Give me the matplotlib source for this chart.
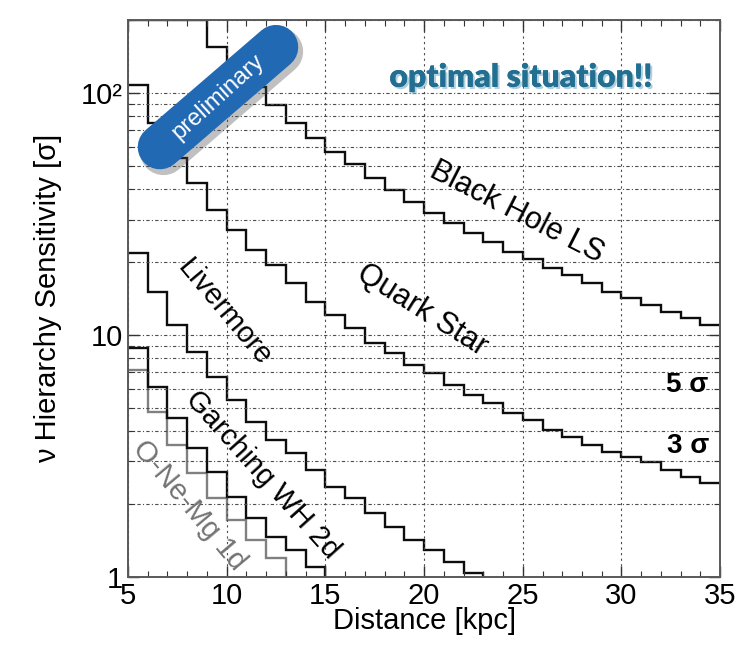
import matplotlib
matplotlib.use("Agg")
import matplotlib.pyplot as plt
import numpy as np
from matplotlib import patheffects

plt.rcParams['font.family'] = ['Liberation Sans', 'DejaVu Sans']

# distance bins [kpc], one per 1 kpc
edges = np.arange(5, 36)

black_hole = [200, 200, 200, 200, 155, 133, 106, 89, 75, 65,
              57, 51, 44.6, 39.7, 35.5, 31.9, 29.0, 26.4, 24.2, 22.0,
              20.6, 18.9, 17.7, 16.4, 15.1, 14.2, 13.3, 12.4, 11.8, 11.0]
quark_star = [108, 75, 54, 42.5, 32.9, 27.2, 22.5, 19.5, 16.4, 13.7,
              12.1, 10.7, 9.27, 8.43, 7.52, 6.97, 6.21, 5.65, 5.24, 4.76,
              4.45, 4.05, 3.79, 3.51, 3.28, 3.13, 2.99, 2.77, 2.59, 2.45]
livermore = [21.8, 15.1, 11.0, 8.51, 6.71, 5.39, 4.37, 3.68, 3.25, 2.77,
             2.35, 2.12, 1.84, 1.61, 1.42, 1.29, 1.15, 1.04, 0.5]
garching = [8.84, 6.10, 4.54, 3.41, 2.72, 2.14, 1.75, 1.46, 1.29, 1.10, 0.5]
onemg = [7.17, 4.81, 3.51, 2.69, 2.12, 1.72, 1.42, 1.20, 0.5]

fig = plt.figure(figsize=(7.44, 6.49), dpi=100)
ax = fig.add_axes([0.172, 0.111, 0.796, 0.858])

ax.set_yscale('log')
ax.set_xlim(5, 35)
ax.set_ylim(1, 200)

# grid first so the curves sit on top
ax.grid(True, which='major', axis='x', color='0.3', lw=0.8, ls=(0, (2, 3)))
ax.grid(True, which='both', axis='y', color='0.3', lw=0.8, ls=(0, (3, 2, 1, 2)))

ax.stairs(onemg, edges[:len(onemg) + 1], color='0.5', lw=1.7, baseline=None)
ax.stairs(garching, edges[:len(garching) + 1], color='0.05', lw=1.7, baseline=None)
ax.stairs(livermore, edges[:len(livermore) + 1], color='0.05', lw=1.7, baseline=None)
ax.stairs(quark_star, edges, color='0.05', lw=1.7, baseline=None)
ax.stairs(black_hole, edges, color='0.05', lw=1.7, baseline=None)

ax.set_xticks(np.arange(5, 36, 5))
ax.set_xticks(np.arange(5, 36, 1), minor=True)
ax.set_yticks([1, 10, 100], ['1', '10', '10²'])
ax.tick_params(which='both', direction='in', top=True, right=True,
               labelsize=21, color='0.2')
ax.tick_params(which='major', length=8, width=1.0)
ax.tick_params(which='minor', length=4, width=0.8)
for s in ax.spines.values():
    s.set_color('0.35')
    s.set_linewidth(1.4)

ax.set_xlabel('Distance [kpc]', fontsize=21, labelpad=-2)
ax.set_ylabel('ν Hierarchy Sensitivity [σ]', fontsize=21, labelpad=14)

# curve labels
ax.text(24.7, 32.2, 'Black Hole LS', fontsize=22, rotation=-27,
        ha='center', va='center')
ax.text(19.9, 12.7, 'Quark Star', fontsize=22, rotation=-32,
        ha='center', va='center')
ax.text(9.9, 12.4, 'Livermore', fontsize=21, rotation=-50,
        ha='center', va='center')
ax.text(11.8, 2.64, 'Garching WH 2d', fontsize=21, rotation=-48,
        ha='center', va='center')
ax.text(8.1, 1.98, 'O-Ne-Mg 1d', fontsize=21, rotation=-50, color='0.45',
        ha='center', va='center')
ax.text(33.3, 6.21, '5 σ', fontsize=20, fontweight='bold',
        ha='center', va='center')
ax.text(33.4, 3.48, '3 σ', fontsize=20, fontweight='bold',
        ha='center', va='center')

ax.text(24.9, 116, 'optimal situation!!', fontsize=23, fontweight='heavy',
        family=['Lato', 'DejaVu Sans'], color='#226f92', ha='center', va='center',
        path_effects=[patheffects.withSimplePatchShadow(offset=(1.5, -1.5),
                                                         shadow_rgbFace='#7fb0c8',
                                                         alpha=0.6),
                      patheffects.Normal()])

# "preliminary" badge: a capsule drawn as a thick round-capped line
bx = [0.054, 0.250]
by = [0.772, 0.9515]
ax.plot([x + 0.006 for x in bx], [y - 0.008 for y in by], transform=ax.transAxes,
        color='0.3', alpha=0.35, lw=34, solid_capstyle='round', zorder=5)
ax.plot(bx, by, transform=ax.transAxes, color='#2169b3', lw=32,
        solid_capstyle='round', zorder=6)
ax.text(0.152, 0.862, 'preliminary', transform=ax.transAxes, rotation=42,
        fontsize=17, color='white', ha='center', va='center', zorder=7)

fig.savefig('out.png', dpi=100)
